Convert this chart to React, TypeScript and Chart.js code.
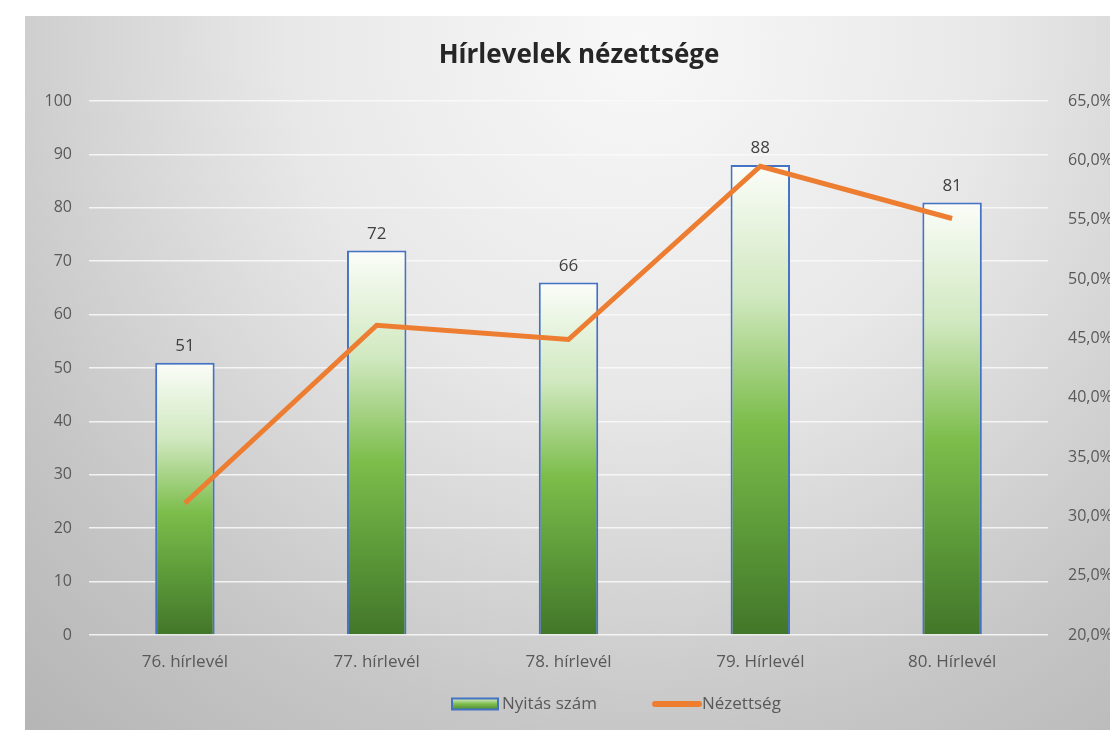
import React, { useEffect, useRef } from "react";
import { Chart, registerables } from "chart.js";

Chart.register(...registerables);

const categories = ["76. hírlevél", "77. hírlevél", "78. hírlevél", "79. Hírlevél", "80. Hírlevél"];
const openCounts = [51, 72, 66, 88, 81];
const viewRates = [31.1, 46.1, 44.9, 59.5, 55.1];
const leftTicks = [0, 10, 20, 30, 40, 50, 60, 70, 80, 90, 100];
const rightTicks = [20, 25, 30, 35, 40, 45, 50, 55, 60, 65];
const titleText = "Hírlevelek nézettsége";
const seriesNames = ["Nyitás szám", "Nézettség"];

const FONT = "'Open Sans', Lato, sans-serif";

const bgPlugin = {
  id: "bgPanel",
  beforeDraw(chart: any) {
    const ctx = chart.ctx;
    const W = chart.width;
    const H = chart.height;
    ctx.save();
    ctx.fillStyle = "#ffffff";
    ctx.fillRect(0, 0, W, H);
    const g = ctx.createRadialGradient(640, 40, 0, 640, 40, 1000);
    g.addColorStop(0, "#f8f8f8");
    g.addColorStop(0.35, "#e8e8e8");
    g.addColorStop(0.7, "#c6c6c6");
    g.addColorStop(1, "#afafaf");
    ctx.fillStyle = g;
    ctx.fillRect(25, 16, W - 25, H - 16);
    ctx.restore();
  },
  afterDraw(chart: any) {
    const ctx = chart.ctx;
    ctx.save();
    // title
    ctx.fillStyle = "#262626";
    ctx.font = `bold 26px ${FONT}`;
    ctx.textAlign = "center";
    ctx.textBaseline = "middle";
    ctx.fillText(titleText, 579, 56);
    // data labels
    const meta = chart.getDatasetMeta(1);
    ctx.font = `17px ${FONT}`;
    ctx.fillStyle = "#404040";
    ctx.textBaseline = "bottom";
    meta.data.forEach((el: any, i: number) => {
      ctx.fillText(String(openCounts[i]), el.x, el.y - 8);
    });
    // legend
    const ly = 704;
    const bx = 452, bw = 46, bh = 11;
    const lg = ctx.createLinearGradient(0, ly - bh / 2, 0, ly + bh / 2);
    lg.addColorStop(0, "#d8ecc8");
    lg.addColorStop(0.5, "#7dbd4d");
    lg.addColorStop(1, "#4f8a31");
    ctx.fillStyle = lg;
    ctx.fillRect(bx, ly - bh / 2, bw, bh);
    ctx.strokeStyle = "#4472c4";
    ctx.lineWidth = 2;
    ctx.strokeRect(bx, ly - bh / 2, bw, bh);
    ctx.font = `17px ${FONT}`;
    ctx.fillStyle = "#595959";
    ctx.textAlign = "left";
    ctx.textBaseline = "middle";
    ctx.fillText(seriesNames[0], bx + bw + 4, ly);
    ctx.strokeStyle = "#ed7d31";
    ctx.lineWidth = 6;
    ctx.lineCap = "round";
    ctx.beginPath();
    ctx.moveTo(655, ly);
    ctx.lineTo(699, ly);
    ctx.stroke();
    ctx.fillText(seriesNames[1], 702, ly);
    ctx.restore();
  },
};

function barGradient(context: any) {
  const chart = context.chart;
  const y = chart.scales && chart.scales.y;
  if (!y || context.raw === undefined) return "#7dbd4d";
  const top = y.getPixelForValue(context.raw);
  const bottom = y.getPixelForValue(0);
  if (!isFinite(top) || !isFinite(bottom) || top === bottom) return "#7dbd4d";
  const g = chart.ctx.createLinearGradient(0, top, 0, bottom);
  g.addColorStop(0, "#fbfdf9");
  g.addColorStop(0.28, "#d0e8bf");
  g.addColorStop(0.55, "#7cbd4b");
  g.addColorStop(0.78, "#5c9a39");
  g.addColorStop(1, "#427629");
  return g;
}

export default function App() {
  const ref = useRef<HTMLCanvasElement>(null);
  useEffect(() => {
    if (!ref.current) return;
    const chart = new Chart(ref.current, {
      type: "bar",
      data: {
        labels: categories,
        datasets: [
          {
            type: "line",
            label: seriesNames[1],
            data: viewRates,
            yAxisID: "y2",
            borderColor: "#ed7d31",
            borderWidth: 5,
            pointRadius: 0,
            tension: 0,
            order: 0,
          } as any,
          {
            type: "bar",
            label: seriesNames[0],
            data: openCounts,
            yAxisID: "y",
            backgroundColor: barGradient,
            borderColor: "#4472c4",
            borderWidth: 2,
            barPercentage: 0.62,
            categoryPercentage: 0.5,
            order: 1,
          } as any,
        ],
      },
      options: {
        responsive: false,
        animation: false,
        layout: { padding: { left: 25, top: 101, right: 0, bottom: 0 } },
        plugins: {
          legend: { display: false },
          title: { display: false },
          tooltip: { enabled: false },
        },
        scales: {
          x: {
            grid: { display: false, drawTicks: false },
            border: { display: false },
            ticks: { color: "#595959", font: { family: FONT, size: 17 }, padding: 17 },
            afterFit(scale: any) {
              scale.height = 95;
            },
          },
          y: {
            position: "left",
            min: 0,
            max: 100,
            afterBuildTicks(scale: any) {
              scale.ticks = leftTicks.map((v) => ({ value: v }));
            },
            grid: { color: "rgba(250,250,250,0.85)", lineWidth: 1.5, drawTicks: false },
            border: { display: false },
            ticks: { color: "#595959", font: { family: FONT, size: 16 }, padding: 17 },
            afterFit(scale: any) {
              scale.width = 64;
            },
          },
          y2: {
            position: "right",
            min: 20,
            max: 65,
            afterBuildTicks(scale: any) {
              scale.ticks = rightTicks.map((v) => ({ value: v }));
            },
            grid: { display: false, drawTicks: false },
            border: { display: false },
            ticks: {
              color: "#595959",
              font: { family: FONT, size: 16 },
              padding: 20,
              callback: (v: any) => Number(v).toFixed(1).replace(".", ",") + "%",
            },
            afterFit(scale: any) {
              scale.width = 62;
            },
          },
        },
      } as any,
      plugins: [bgPlugin],
    });
    return () => chart.destroy();
  }, []);
  return (
    <canvas
      ref={ref}
      width={1110}
      height={730}
      style={{ position: "fixed", left: 0, top: 0, display: "block", width: 1110, height: 730 }}
    />
  );
}
